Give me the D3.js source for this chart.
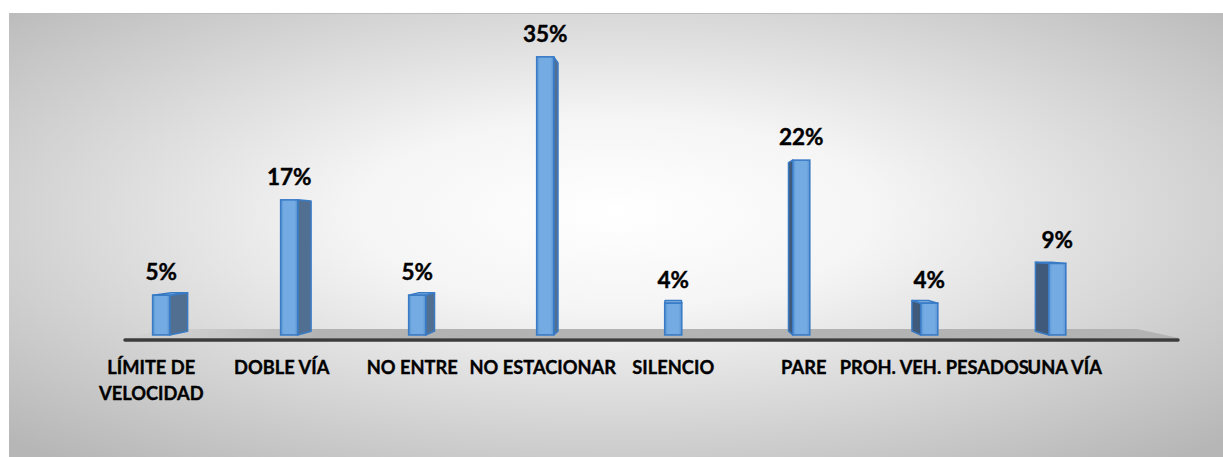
<!DOCTYPE html>
<html>
<head>
<meta charset="utf-8">
<script src="https://cdn.jsdelivr.net/npm/d3@7"></script>
<style>
  html, body { margin: 0; padding: 0; background: #ffffff; }
  svg { display: block; }
</style>
</head>
<body>
<svg id="chart" width="1223" height="457"></svg>
<script>
// ---- data ----
const categories = ["LÍMITE DE\nVELOCIDAD", "DOBLE VÍA", "NO ENTRE", "NO ESTACIONAR", "SILENCIO", "PARE", "PROH. VEH. PESADOS", "UNA VÍA"];
const values = [5, 17, 5, 35, 4, 22, 4, 9];
const valueDomain = [0, 40];

// ---- layout ----
const W = 1223, H = 457;
const plot = { x: 9, y: 13, w: 1214, h: 444 };
const V = { x: 673, y: 229 };           // vanishing point
const sFront = 0.981, sBack = 0.946;    // bar depth scales
const sFloorBack = 0.917;
const baseY = 337;

const svg = d3.select("#chart");
const defs = svg.append("defs");

const bg = defs.append("radialGradient").attr("id", "bg")
  .attr("cx", 0.5).attr("cy", 0.45).attr("r", 0.72);
bg.append("stop").attr("offset", "0").attr("stop-color", "#ffffff");
bg.append("stop").attr("offset", "0.3").attr("stop-color", "#f5f5f5");
bg.append("stop").attr("offset", "1").attr("stop-color", "#b6b6b6");

const fl = defs.append("linearGradient").attr("id", "floor")
  .attr("gradientUnits", "userSpaceOnUse").attr("x1", 120).attr("x2", 320).attr("y1", 0).attr("y2", 0);
fl.append("stop").attr("offset", "0").attr("stop-color", "#b3b3b3").attr("stop-opacity", 0);
fl.append("stop").attr("offset", "1").attr("stop-color", "#b3b3b3").attr("stop-opacity", 1);

const fg = defs.append("linearGradient").attr("id", "front").attr("x1", 0).attr("x2", 1).attr("y1", 0).attr("y2", 0);
fg.append("stop").attr("offset", "0").attr("stop-color", "#5c96d6");
fg.append("stop").attr("offset", "0.2").attr("stop-color", "#74abe2");
fg.append("stop").attr("offset", "0.8").attr("stop-color", "#74abe2");
fg.append("stop").attr("offset", "1").attr("stop-color", "#5c96d6");

svg.append("rect").attr("x", plot.x).attr("y", plot.y).attr("width", plot.w).attr("height", plot.h)
  .attr("fill", "url(#bg)");
svg.append("line").attr("x1", plot.x).attr("x2", W).attr("y1", plot.y + 0.5).attr("y2", plot.y + 0.5)
  .attr("stroke", "#bcbcbc").attr("stroke-width", 1);

// ---- scales ----
const x = d3.scalePoint().domain(categories).range([86, 1130]).padding(0.5);
const y = d3.scaleLinear().domain(valueDomain).range([baseY, plot.y]);
const step = x.step();
const barW = step * 0.133;

function proj(px, py, s) { return [V.x + (px - V.x) * s, V.y + (py - V.y) * s]; }
const line = pts => "M" + pts.map(p => p.join(",")).join("L") + "Z";

// ---- floor ----
const floorL = x.range()[0] + 38, floorR = x.range()[1] + 49;
svg.append("path")
  .attr("d", line([proj(floorL, baseY + 1, 1), proj(floorR, baseY + 1, 1), proj(floorR, baseY + 1, sFloorBack), proj(floorL, baseY + 1, sFloorBack)]))
  .attr("fill", "url(#floor)");
svg.append("line").attr("x1", floorL + 1).attr("x2", floorR - 1).attr("y1", baseY + 3).attr("y2", baseY + 3)
  .attr("stroke", "#3c3c3c").attr("stroke-width", 3.5).attr("stroke-linecap", "round");

// ---- bars ----
const bars = svg.append("g");
categories.forEach((c, i) => {
  const cx = x(c), x0 = cx - barW / 2, x1 = cx + barW / 2;
  const y0 = y(values[i]), y1 = baseY;
  const g = bars.append("g");
  const fx1 = proj(x1, y0, sFront)[0], fx0 = proj(x0, y0, sFront)[0];
  if (fx1 < V.x - 1) {
    g.append("path").attr("d", line([proj(x1, y0, sFront), proj(x1, y0, sBack), proj(x1, y1, sBack), proj(x1, y1, sFront)]))
      .attr("fill", "#516f90").attr("stroke", "#3a7bc6").attr("stroke-width", 1.5).attr("stroke-linejoin", "round");
  } else if (fx0 > V.x + 1) {
    g.append("path").attr("d", line([proj(x0, y0, sFront), proj(x0, y0, sBack), proj(x0, y1, sBack), proj(x0, y1, sFront)]))
      .attr("fill", "#3f5a7a").attr("stroke", "#3a7bc6").attr("stroke-width", 1.5).attr("stroke-linejoin", "round");
  }
  if (y0 > V.y) {
    g.append("path").attr("d", line([proj(x0, y0, sFront), proj(x1, y0, sFront), proj(x1, y0, sBack), proj(x0, y0, sBack)]))
      .attr("fill", "#86b6e6").attr("stroke", "#3a7bc6").attr("stroke-width", 1.5).attr("stroke-linejoin", "round");
  }
  const p0 = proj(x0, y0, sFront), p1 = proj(x1, y1, sFront);
  g.append("rect").attr("x", p0[0]).attr("y", p0[1]).attr("width", p1[0] - p0[0]).attr("height", p1[1] - p0[1])
    .attr("fill", "url(#front)").attr("stroke", "#3a7bc6").attr("stroke-width", 1.6);
  // data label
  svg.append("text").attr("x", (p0[0] + p1[0]) / 2).attr("y", p0[1] - 15)
    .attr("text-anchor", "middle").attr("font-family", "Lato, 'Open Sans', sans-serif")
    .attr("font-weight", 700).attr("font-size", 22.5).attr("fill", "#000")
    .attr("stroke", "#000").attr("stroke-width", 0.4)
    .text(values[i] + "%");
});

// ---- category axis labels ----
const labels = svg.append("g").attr("font-family", "Lato, 'Open Sans', sans-serif")
  .attr("font-weight", 700).attr("font-size", 18.3).attr("fill", "#000").attr("text-anchor", "middle")
  .attr("stroke", "#000").attr("stroke-width", 0.35);
categories.forEach(c => {
  const t = labels.append("text").attr("x", x(c)).attr("y", 374);
  c.split("\n").forEach((ln, k) => {
    t.append("tspan").attr("x", x(c)).attr("dy", k === 0 ? 0 : 26).text(ln);
  });
});
</script>
</body>
</html>
